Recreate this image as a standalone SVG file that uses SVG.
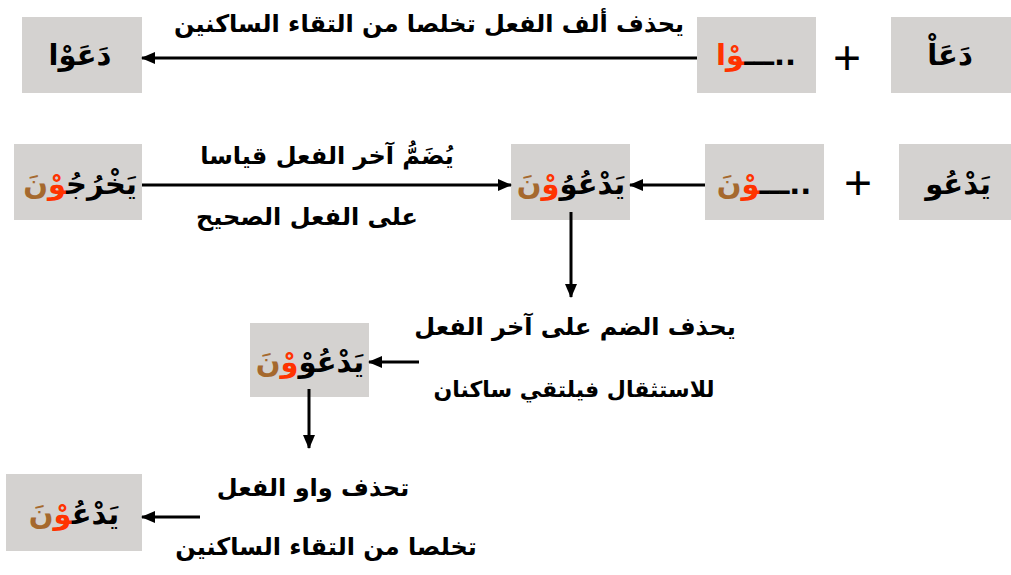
<svg xmlns="http://www.w3.org/2000/svg" width="1011" height="575" viewBox="0 0 1011 575">
<defs>
<style>
.box{fill:#d4d2d0;}
.w{font-family:"DejaVu Sans",sans-serif;font-size:29px;font-weight:bold;fill:#000;}
.lbl{font-family:"DejaVu Sans",sans-serif;font-size:24px;font-weight:bold;fill:#000;}
.plus{font-family:"Liberation Sans",sans-serif;font-size:48px;fill:#000;}
.r{fill:#ff3300;}
.b{fill:#a5692e;}
.c{stroke:#000;stroke-width:3;fill:none;}
</style>
<marker id="ah" markerUnits="userSpaceOnUse" markerWidth="14" markerHeight="14" viewBox="0 0 14 14" refX="13" refY="7" orient="auto">
<path d="M0,1 L14,7 L0,13 Z" fill="#000"/>
</marker>
</defs>
<rect width="1011" height="575" fill="#fff"/>

<g id="n1">
<rect class="box" x="22" y="17" width="120" height="76"/>
<text class="w" x="80" y="65" text-anchor="middle" direction="rtl">دَعَوْا</text>
</g>
<g id="n2">
<rect class="box" x="697" y="17" width="119" height="76"/>
<text class="w" x="756" y="65" text-anchor="middle" direction="rtl">..ـــ<tspan class="r">وْا</tspan></text>
</g>
<g id="n3">
<rect class="box" x="891" y="17" width="120" height="76"/>
<text class="w" x="950" y="65" text-anchor="middle" direction="rtl">دَعَاْ</text>
</g>
<text id="p1" class="plus" x="847" y="74" text-anchor="middle">+</text>

<g id="n4">
<rect class="box" x="14" y="144" width="128" height="76"/>
<text class="w" x="80" y="194" text-anchor="middle" direction="rtl">يَخْرُجُ<tspan class="r">وْ</tspan><tspan class="b">نَ</tspan></text>
</g>
<g id="n5">
<rect class="box" x="511" y="144" width="119" height="76"/>
<text class="w" x="571" y="194" text-anchor="middle" direction="rtl">يَدْعُوُ<tspan class="r">وْ</tspan><tspan class="b">نَ</tspan></text>
</g>
<g id="n6">
<rect class="box" x="705" y="144" width="119" height="76"/>
<text class="w" x="764" y="194" text-anchor="middle" direction="rtl">..ـــ<tspan class="r">وْ</tspan><tspan class="b">نَ</tspan></text>
</g>
<g id="n7">
<rect class="box" x="899" y="144" width="112" height="76"/>
<text class="w" x="958" y="194" text-anchor="middle" direction="rtl">يَدْعُو</text>
</g>
<text id="p2" class="plus" x="858" y="199" text-anchor="middle">+</text>

<g id="n8">
<rect class="box" x="250" y="323" width="119" height="74"/>
<text class="w" x="310" y="372" text-anchor="middle" direction="rtl">يَدْعُوْ<tspan class="r">وْ</tspan><tspan class="b">نَ</tspan></text>
</g>
<g id="n9">
<rect class="box" x="6" y="474" width="136" height="77"/>
<text class="w" x="74" y="524" text-anchor="middle" direction="rtl">يَدْعُ<tspan class="r">وْ</tspan><tspan class="b">نَ</tspan></text>
</g>

<g id="labels">
<text class="lbl" x="429" y="32" text-anchor="middle" direction="rtl">يحذف ألف الفعل تخلصا من التقاء الساكنين</text>
<text class="lbl" x="327" y="164" text-anchor="middle" direction="rtl">يُضَمُّ آخر الفعل قياسا</text>
<text class="lbl" x="307" y="225" text-anchor="middle" direction="rtl">على الفعل الصحيح</text>
<text class="lbl" x="575" y="335" text-anchor="middle" direction="rtl">يحذف الضم على آخر الفعل</text>
<text class="lbl" x="574" y="397" text-anchor="middle" direction="rtl" style="font-size:22px">للاستثقال فيلتقي ساكنان</text>
<text class="lbl" x="313" y="496" text-anchor="middle" direction="rtl">تحذف واو الفعل</text>
<text class="lbl" x="326" y="555" text-anchor="middle" direction="rtl">تخلصا من التقاء الساكنين</text>
</g>

<g id="connectors">
<line class="c" x1="697" y1="58" x2="142" y2="58" marker-end="url(#ah)"/>
<line class="c" x1="142" y1="185" x2="511" y2="185" marker-end="url(#ah)"/>
<line class="c" x1="705" y1="185" x2="630" y2="185" marker-end="url(#ah)"/>
<line class="c" x1="571" y1="212" x2="571" y2="297" marker-end="url(#ah)"/>
<line class="c" x1="419" y1="362" x2="369" y2="362" marker-end="url(#ah)"/>
<line class="c" x1="309" y1="389" x2="309" y2="448" marker-end="url(#ah)"/>
<line class="c" x1="200" y1="517" x2="142" y2="517" marker-end="url(#ah)"/>
</g>
</svg>
